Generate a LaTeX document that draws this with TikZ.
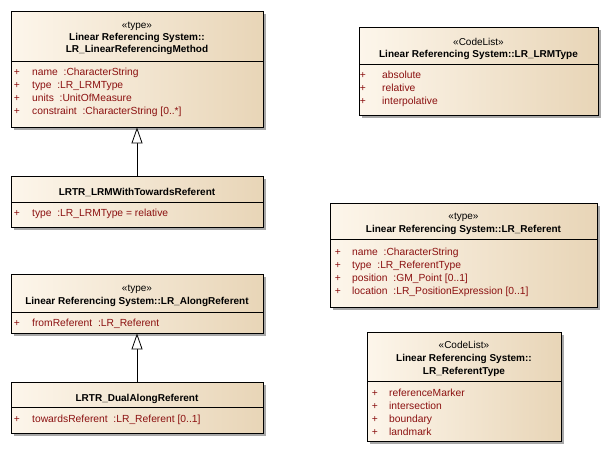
\documentclass[tikz,border=0pt]{standalone}
\usepackage{fontspec}
\setmainfont{Liberation Sans}
\usetikzlibrary{arrows.meta,shadows}
\definecolor{attrred}{HTML}{8B1010}
\definecolor{fillL}{HTML}{FDF6EB}
\definecolor{fillR}{HTML}{E8D5B7}
\definecolor{shadowgray}{HTML}{A8A8A8}
\tikzset{
  umlbox/.style={draw=black, line width=0.8pt, rectangle, inner sep=0pt,
    left color=fillL, right color=fillR,
    drop shadow={shadow xshift=3pt, shadow yshift=-3pt, fill=shadowgray, opacity=1}},
  ttl/.style={anchor=base, inner sep=0pt, font=\fontsize{10}{12}\selectfont\bfseries, text=black},
  stereo/.style={anchor=base, inner sep=0pt, font=\fontsize{10}{12}\selectfont, text=black},
  plus/.style={anchor=base, inner sep=0pt, font=\fontsize{10.3}{12}\selectfont, text=attrred},
  attr/.style={anchor=base west, inner sep=0pt, font=\fontsize{10.3}{12}\selectfont, text=attrred},
  sepline/.style={line width=0.8pt, draw=black},
  gen/.style={line width=0.8pt, -{Triangle[open, length=16pt, width=11pt, fill=white]}}
}
\begin{document}
\begin{tikzpicture}[x=1pt, y=-1pt]
\useasboundingbox (0,0) rectangle (609,471);

% ---------- Box 1 ----------
\node[umlbox, minimum width=252pt, minimum height=116pt] (b1) at (137,69) {};
\draw[sepline] (11,61) -- (263,61);
\node[stereo] (b1s) at (137,28) {«type»};
\node[ttl] (b1t1) at (137,40) {Linear Referencing System::};
\node[ttl] (b1t2) at (137,52) {LR\_LinearReferencingMethod};
\node[plus] (b1p1) at (17,75) {+};
\node[attr] (b1a1) at (32,75) {name\ \ :CharacterString};
\node[plus] (b1p2) at (17,88) {+};
\node[attr] (b1a2) at (32,88) {type\ \ :LR\_LRMType};
\node[plus] (b1p3) at (17,101) {+};
\node[attr] (b1a3) at (32,101) {units\ \ :UnitOfMeasure};
\node[plus] (b1p4) at (17,114) {+};
\node[attr] (b1a4) at (32,114) {constraint\ \ :CharacterString [0..*]};

% ---------- Box 2 ----------
\node[umlbox, minimum width=252pt, minimum height=51pt] (b2) at (137,201.5) {};
\draw[sepline] (11,202) -- (263,202);
\node[ttl] (b2t) at (137,195) {LRTR\_LRMWithTowardsReferent};
\node[plus] (b2p1) at (17,216) {+};
\node[attr] (b2a1) at (32,216) {type\ \ :LR\_LRMType = relative};

% ---------- Box 3 ----------
\node[umlbox, minimum width=252pt, minimum height=59pt] (b3) at (137,303.5) {};
\draw[sepline] (11,312) -- (263,312);
\node[stereo] (b3s) at (137,291) {«type»};
\node[ttl] (b3t) at (137,304) {Linear Referencing System::LR\_AlongReferent};
\node[plus] (b3p1) at (17,326) {+};
\node[attr] (b3a1) at (32,326) {fromReferent\ \ :LR\_Referent};

% ---------- Box 4 ----------
\node[umlbox, minimum width=252pt, minimum height=51pt] (b4) at (137,407.5) {};
\draw[sepline] (11,407) -- (263,407);
\node[ttl] (b4t) at (137,401) {LRTR\_DualAlongReferent};
\node[plus] (b4p1) at (17,422) {+};
\node[attr] (b4a1) at (32,422) {towardsReferent\ \ :LR\_Referent [0..1]};

% ---------- Box 5 ----------
\node[umlbox, minimum width=239pt, minimum height=88pt] (b5) at (478.5,71) {};
\draw[sepline] (359,64) -- (598,64);
\node[stereo] (b5s) at (478.5,45) {«CodeList»};
\node[ttl] (b5t) at (478.5,57) {Linear Referencing System::LR\_LRMType};
\node[plus] (b5p1) at (363,78) {+};
\node[attr] (b5a1) at (382,78) {absolute};
\node[plus] (b5p2) at (363,91) {+};
\node[attr] (b5a2) at (382,91) {relative};
\node[plus] (b5p3) at (363,104) {+};
\node[attr] (b5a3) at (382,104) {interpolative};

% ---------- Box 6 ----------
\node[umlbox, minimum width=267pt, minimum height=104pt] (b6) at (463.5,255) {};
\draw[sepline] (330,239) -- (597,239);
\node[stereo] (b6s) at (463.5,219) {«type»};
\node[ttl] (b6t) at (463.5,232) {Linear Referencing System::LR\_Referent};
\node[plus] (b6p1) at (338,255) {+};
\node[attr] (b6a1) at (352,255) {name\ \ :CharacterString};
\node[plus] (b6p2) at (338,268) {+};
\node[attr] (b6a2) at (352,268) {type\ \ :LR\_ReferentType};
\node[plus] (b6p3) at (338,281) {+};
\node[attr] (b6a3) at (352,281) {position\ \ :GM\_Point [0..1]};
\node[plus] (b6p4) at (338,294) {+};
\node[attr] (b6a4) at (352,294) {location\ \ :LR\_PositionExpression [0..1]};

% ---------- Box 7 ----------
\node[umlbox, minimum width=194pt, minimum height=109pt] (b7) at (464,386.5) {};
\draw[sepline] (367,381) -- (561,381);
\node[stereo] (b7s) at (464,348) {«CodeList»};
\node[ttl] (b7t1) at (464,361) {Linear Referencing System::};
\node[ttl] (b7t2) at (464,374) {LR\_ReferentType};
\node[plus] (b7p1) at (375,396) {+};
\node[attr] (b7a1) at (389,396) {referenceMarker};
\node[plus] (b7p2) at (375,409) {+};
\node[attr] (b7a2) at (389,409) {intersection};
\node[plus] (b7p3) at (375,422) {+};
\node[attr] (b7a3) at (389,422) {boundary};
\node[plus] (b7p4) at (375,435) {+};
\node[attr] (b7a4) at (389,435) {landmark};

% ---------- Generalizations ----------
\draw[gen] (b2.north) -- (b1.south);
\draw[gen] (b4.north) -- (b3.south);
\end{tikzpicture}
\end{document}
